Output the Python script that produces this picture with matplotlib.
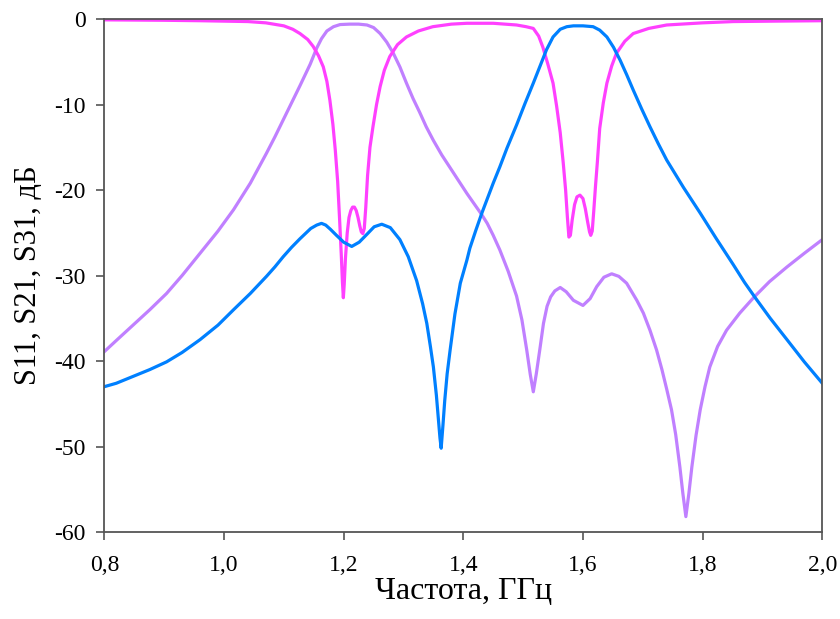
import matplotlib
matplotlib.use('Agg')
import matplotlib.pyplot as plt
from matplotlib.ticker import FuncFormatter

# S11 (отражение)
f_s11 = [0.80, 0.90, 0.96, 1.00, 1.04, 1.07, 1.10, 1.115, 1.127, 1.14, 1.149, 1.158,
         1.166, 1.172, 1.177, 1.182, 1.186, 1.190, 1.193, 1.196, 1.198, 1.1995, 1.201,
         1.203, 1.206, 1.209, 1.212, 1.215, 1.218, 1.221, 1.224, 1.227, 1.2295, 1.232,
         1.2345, 1.237, 1.240, 1.244, 1.249, 1.255, 1.261, 1.268, 1.277, 1.290, 1.305,
         1.325, 1.349, 1.38, 1.406, 1.45, 1.489, 1.505, 1.517, 1.526, 1.533, 1.541,
         1.550, 1.556, 1.562, 1.567, 1.571, 1.574, 1.5765, 1.579, 1.582, 1.586, 1.590,
         1.595, 1.600, 1.604, 1.608, 1.611, 1.613, 1.6155, 1.618, 1.621, 1.624, 1.628,
         1.634, 1.640, 1.648, 1.656, 1.670, 1.684, 1.71, 1.74, 1.80, 1.851, 1.92, 2.00]
s11 = [-0.1, -0.15, -0.2, -0.25, -0.3, -0.45, -0.8, -1.2, -1.7, -2.4, -3.2, -4.3,
       -5.6, -7.3, -9.5, -12.3, -15.3, -19.0, -23.1, -27.5, -30.8, -32.6, -31.0,
       -28.0, -25.0, -23.2, -22.4, -22.0, -22.0, -22.4, -23.2, -24.2, -24.9, -25.1,
       -24.5, -22.0, -18.3, -15.0, -12.6, -10.0, -7.9, -6.0, -4.4, -3.0, -2.1,
       -1.4, -0.9, -0.6, -0.5, -0.5, -0.7, -0.9, -1.1, -2.0, -3.3, -5.2,
       -7.5, -10.2, -13.3, -16.8, -20.0, -23.2, -25.5, -25.3, -23.5, -21.7, -20.8,
       -20.6, -21.0, -22.2, -23.8, -24.9, -25.3, -24.8, -22.5, -19.5, -16.8, -12.8,
       -9.8, -7.5, -5.5, -4.0, -2.6, -1.7, -1.1, -0.7, -0.45, -0.3, -0.25, -0.2]

# S21 (верхний канал)
f_s21 = [0.80, 0.82, 0.848, 0.876, 0.904, 0.93, 0.96, 0.99, 1.016, 1.044, 1.071, 1.085,
         1.099, 1.113, 1.127, 1.145, 1.155, 1.163, 1.170, 1.178, 1.188, 1.200, 1.2135,
         1.226, 1.2386, 1.251, 1.2637, 1.278, 1.294, 1.308, 1.322, 1.332, 1.339, 1.345,
         1.350, 1.355, 1.358, 1.361, 1.363, 1.366, 1.369, 1.373, 1.378, 1.386, 1.395,
         1.406, 1.411, 1.421, 1.431, 1.450, 1.461, 1.473, 1.489, 1.503, 1.517, 1.530,
         1.539, 1.550, 1.562, 1.573, 1.584, 1.600, 1.617, 1.628, 1.640, 1.651, 1.662,
         1.673, 1.684, 1.698, 1.712, 1.726, 1.740, 1.768, 1.796, 1.823, 1.851, 1.870,
         1.888, 1.913, 1.941, 1.970, 2.00]
s21 = [-43.0, -42.6, -41.8, -41.0, -40.1, -39.0, -37.5, -35.8, -34.0, -32.1, -30.1, -29.0,
       -27.8, -26.7, -25.7, -24.5, -24.1, -23.9, -24.1, -24.6, -25.3, -26.1, -26.6,
       -26.1, -25.2, -24.3, -24.0, -24.4, -25.8, -27.8, -30.6, -33.3, -35.6, -38.3,
       -40.7, -44.0, -46.5, -49.0, -50.2, -47.5, -44.6, -41.5, -38.7, -34.5, -30.9,
       -28.2, -26.8, -24.7, -22.7, -19.2, -17.3, -15.1, -12.4, -9.9, -7.5, -5.2,
       -3.6, -2.1, -1.2, -0.9, -0.8, -0.8, -0.9, -1.3, -2.1, -3.3, -4.8,
       -6.5, -8.3, -10.5, -12.6, -14.6, -16.5, -19.7, -22.7, -25.7, -28.7, -30.8,
       -32.6, -35.0, -37.5, -40.1, -42.6]

# S31 (нижний канал)
f_s31 = [0.80, 0.82, 0.848, 0.876, 0.904, 0.93, 0.96, 0.99, 1.016, 1.044, 1.071, 1.085,
         1.099, 1.113, 1.127, 1.144, 1.155, 1.163, 1.172, 1.183, 1.194, 1.21, 1.225,
         1.239, 1.250, 1.261, 1.272, 1.283, 1.294, 1.305, 1.316, 1.327, 1.338, 1.350,
         1.364, 1.378, 1.392, 1.406, 1.418, 1.431, 1.440, 1.450, 1.461, 1.475, 1.489,
         1.498, 1.506, 1.512, 1.517, 1.522, 1.528, 1.534, 1.540, 1.546, 1.553, 1.562,
         1.572, 1.584, 1.600, 1.612, 1.623, 1.635, 1.648, 1.660, 1.673, 1.690, 1.701,
         1.712, 1.723, 1.732, 1.740, 1.748, 1.755, 1.762, 1.767, 1.772, 1.777, 1.782,
         1.789, 1.796, 1.804, 1.812, 1.825, 1.840, 1.862, 1.885, 1.912, 1.941, 1.970,
         2.00]
s31 = [-38.9, -37.6, -35.8, -34.0, -32.1, -30.0, -27.4, -24.8, -22.3, -19.2, -15.7, -13.8,
       -11.8, -9.8, -7.8, -5.3, -3.4, -2.3, -1.4, -0.9, -0.65, -0.6, -0.6,
       -0.7, -1.0, -1.7, -2.7, -4.0, -5.6, -7.5, -9.3, -10.9, -12.6, -14.2,
       -15.9, -17.4, -18.9, -20.4, -21.6, -22.9, -23.9, -25.3, -27.0, -29.5, -32.4,
       -35.2, -38.7, -41.6, -43.6, -41.5, -38.6, -35.6, -33.6, -32.5, -31.8, -31.4,
       -31.9, -32.9, -33.5, -32.7, -31.3, -30.2, -29.8, -30.1, -30.9, -32.9, -34.4,
       -36.4, -38.7, -41.0, -43.3, -45.7, -48.6, -52.4, -55.5, -58.2, -55.5, -52.4,
       -48.7, -45.7, -43.0, -40.7, -38.3, -36.4, -34.4, -32.6, -30.7, -29.0, -27.4,
       -25.8]

x_ticks = [0.8, 1.0, 1.2, 1.4, 1.6, 1.8, 2.0]
y_ticks = [0, -10, -20, -30, -40, -50, -60]

plt.rcParams['font.family'] = ['Liberation Serif', 'DejaVu Serif']
plt.rcParams['axes.unicode_minus'] = False

fig = plt.figure(figsize=(8.4, 6.19), dpi=100)
ax = fig.add_axes([0.1242, 0.1405, 0.8547, 0.8288])

ax.plot(f_s31, s31, color='#c080ff', lw=2.3, solid_joinstyle='round')
ax.plot(f_s11, s11, color='#ff40ff', lw=2.3, solid_joinstyle='round')
ax.plot(f_s21, s21, color='#0080ff', lw=2.3, solid_joinstyle='round')

ax.set_xlim(0.8, 2.0)
ax.set_ylim(-60, 0)
ax.set_xticks(x_ticks)
ax.set_yticks(y_ticks)
ax.xaxis.set_major_formatter(FuncFormatter(lambda v, p: f'{v:.1f}'.replace('.', ',')))
ax.yaxis.set_major_formatter(FuncFormatter(lambda v, p: f'{v:.0f}'))

for s in ax.spines.values():
    s.set_color('#555555')
    s.set_linewidth(1.3)
ax.tick_params(direction='out', length=5.5, width=1.2, color='#555555',
               labelsize=17, top=False, right=False)
ax.tick_params(axis='x', pad=11)
ax.tick_params(axis='y', pad=8)

ax.set_xlabel('Частота, ГГц', fontsize=23, labelpad=1)
ax.set_ylabel('S11, S21, S31, дБ', fontsize=22, labelpad=8)

fig.savefig('out.png', dpi=100)
